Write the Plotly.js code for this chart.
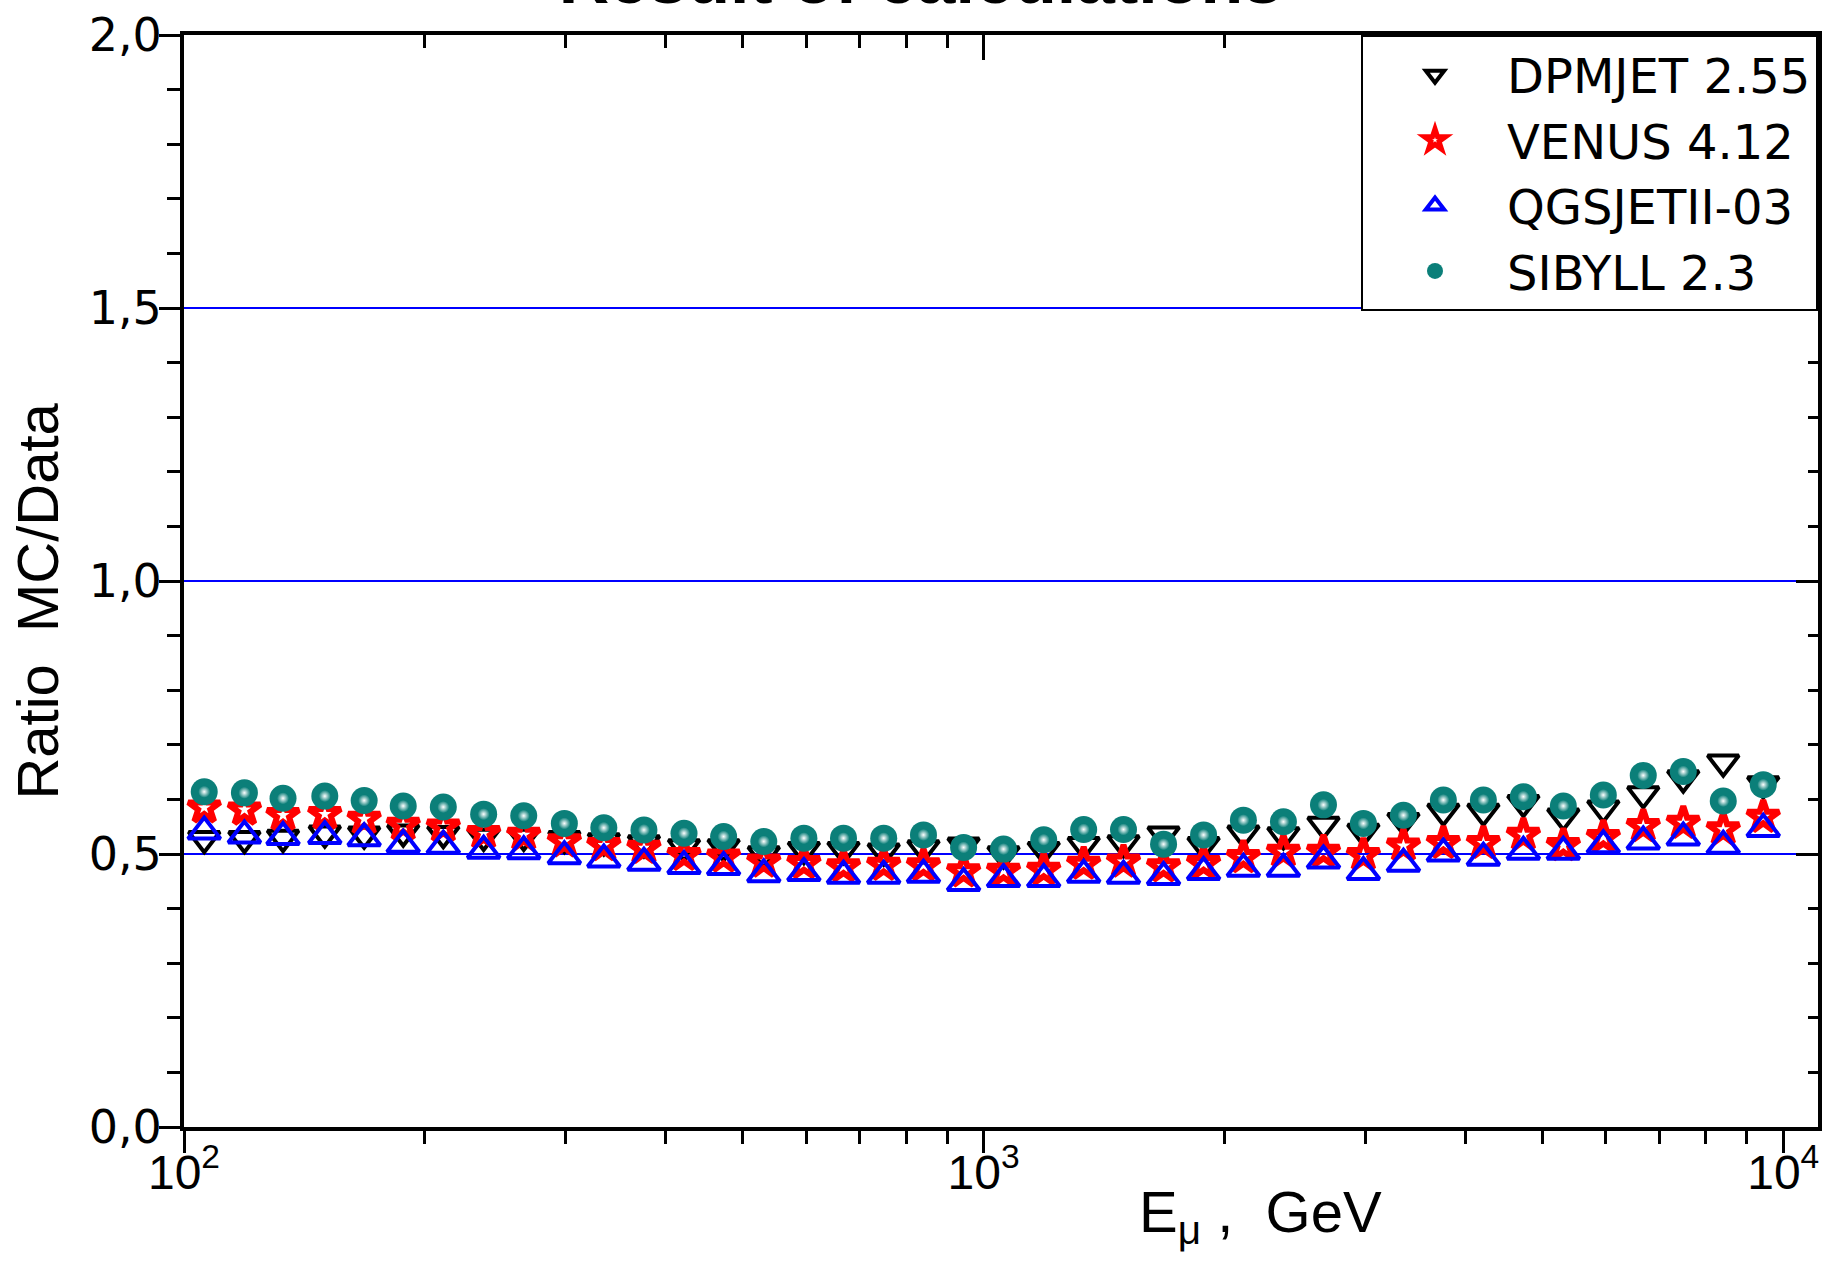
<!DOCTYPE html>
<html>
<head>
<meta charset="utf-8">
<script src="https://cdn.plot.ly/plotly-3.0.1.min.js"></script>
<style>html,body{margin:0;padding:0;background:#fff;}#chart{width:1841px;height:1263px;}</style>
</head>
<body>
<div id="chart"></div>
<script>
// Muon energy (GeV), bin centres
const energy = [106, 119, 133, 150, 168, 188, 211, 237, 266, 299, 335, 376, 422, 473, 531, 596, 668, 750, 841, 944,
                1059, 1189, 1334, 1496, 1679, 1884, 2113, 2371, 2661, 2985, 3350, 3758, 4217, 4732, 5309, 5957, 6683, 7499, 8414, 9441];

const dpmjet = [0.528, 0.528, 0.530, 0.538, 0.536, 0.540, 0.537, 0.532, 0.532, 0.528, 0.524, 0.520, 0.513, 0.513, 0.500, 0.508, 0.508, 0.505, 0.511, 0.516,
                0.500, 0.508, 0.517, 0.520, 0.536, 0.517, 0.538, 0.535, 0.554, 0.541, 0.561, 0.578, 0.578, 0.594, 0.569, 0.584, 0.610, 0.639, 0.668, 0.628];

const venus = [0.585, 0.581, 0.571, 0.573, 0.564, 0.553, 0.550, 0.538, 0.535, 0.523, 0.516, 0.511, 0.498, 0.495, 0.486, 0.483, 0.477, 0.480, 0.479, 0.468,
               0.469, 0.471, 0.482, 0.486, 0.477, 0.483, 0.494, 0.504, 0.504, 0.498, 0.515, 0.520, 0.520, 0.535, 0.516, 0.531, 0.551, 0.557, 0.545, 0.568];

const qgsjet = [0.541, 0.534, 0.531, 0.533, 0.529, 0.517, 0.515, 0.506, 0.505, 0.496, 0.490, 0.484, 0.478, 0.476, 0.463, 0.465, 0.460, 0.460, 0.462, 0.447,
                0.454, 0.454, 0.462, 0.460, 0.458, 0.467, 0.473, 0.473, 0.488, 0.467, 0.482, 0.501, 0.493, 0.504, 0.504, 0.516, 0.523, 0.530, 0.515, 0.546];

const sibyll = [0.614, 0.612, 0.602, 0.606, 0.598, 0.588, 0.586, 0.573, 0.570, 0.556, 0.548, 0.544, 0.538, 0.532, 0.523, 0.529, 0.529, 0.529, 0.535, 0.512,
                0.509, 0.526, 0.545, 0.545, 0.518, 0.535, 0.562, 0.559, 0.590, 0.556, 0.571, 0.599, 0.599, 0.605, 0.588, 0.608, 0.644, 0.651, 0.597, 0.627];

const seriesNames = ['DPMJET 2.55', 'VENUS 4.12', 'QGSJETII-03', 'SIBYLL 2.3'];

const xMajorVals = [100, 1000, 10000];
const xMajorText = ['10<sup>2</sup>', '10<sup>3</sup>', '10<sup>4</sup>'];
const xMinorVals = [200, 300, 400, 500, 600, 700, 800, 900, 2000, 3000, 4000, 5000, 6000, 7000, 8000, 9000];
const yMajorVals = [0, 0.5, 1.0, 1.5, 2.0];
const yMajorText = ['0,0', '0,5', '1,0', '1,5', '2,0'];
const yMinorVals = [0.1, 0.2, 0.3, 0.4, 0.6, 0.7, 0.8, 0.9, 1.1, 1.2, 1.3, 1.4, 1.6, 1.7, 1.8, 1.9];

const FONT = '"Liberation Sans", Arial, Helvetica, sans-serif';
const WIDE = '"DejaVu Sans", "Liberation Sans", Arial, sans-serif';
const TEAL = '#0b7f79';

const traces = [
  {x: energy, y: dpmjet, name: seriesNames[0], type: 'scatter', mode: 'markers',
   marker: {symbol: 'triangle-down-open', size: 27, color: 'black', line: {width: 4, color: 'black'}}},
  {x: energy, y: venus, name: seriesNames[1], type: 'scatter', mode: 'markers',
   marker: {symbol: 'star-open', size: 24, color: '#ff0000', line: {width: 6, color: '#ff0000'}}},
  {x: energy, y: qgsjet, name: seriesNames[2], type: 'scatter', mode: 'markers',
   marker: {symbol: 'triangle-up-open', size: 28, color: '#0000ff', line: {width: 4, color: '#0000ff'}}},
  {x: energy, y: sibyll, name: seriesNames[3], type: 'scatter', mode: 'markers',
   marker: {symbol: 'circle', size: 27, color: TEAL, line: {width: 0}}},
  {x: energy, y: sibyll, name: 'highlight', type: 'scatter', mode: 'markers', showlegend: false, hoverinfo: 'skip',
   marker: {symbol: 'circle', size: 12, color: TEAL, gradient: {type: 'radial', color: '#ffffff'}, line: {width: 0}}},
  {x: [], y: [], xaxis: 'x2', yaxis: 'y2', showlegend: false, hoverinfo: 'skip', type: 'scatter', mode: 'markers'}
];

const xRange = [2, 4.0435];

const layout = {
  width: 1841, height: 1263,
  margin: {l: 184, r: 23, t: 35, b: 136},
  paper_bgcolor: '#ffffff', plot_bgcolor: '#ffffff',
  showlegend: true,
  title: {text: 'Result of calculations', font: {family: FONT, size: 70, color: 'black', weight: 'bold'},
          xref: 'container', yref: 'container', x: 0.5, xanchor: 'center', y: 0.998, yanchor: 'bottom'},
  xaxis: {
    type: 'log', range: xRange, showline: true, linecolor: 'black', linewidth: 4,
    ticks: 'outside', ticklen: 22, tickwidth: 3, tickcolor: 'black',
    tickmode: 'array', tickvals: xMajorVals, ticktext: xMajorText,
    tickfont: {family: FONT, size: 48, color: 'black'}, ticklabelstandoff: -22,
    minor: {tickmode: 'array', tickvals: xMinorVals, ticks: 'outside', ticklen: 13, tickwidth: 3, tickcolor: 'black', showgrid: false},
    showgrid: false, zeroline: false
  },
  xaxis2: {
    type: 'log', range: xRange, overlaying: 'x', side: 'top', anchor: 'y',
    showline: true, linecolor: 'black', linewidth: 4,
    ticks: 'inside', ticklen: 25, tickwidth: 3, tickcolor: 'black',
    tickmode: 'array', tickvals: xMajorVals, showticklabels: false,
    minor: {tickmode: 'array', tickvals: xMinorVals, ticks: 'inside', ticklen: 13, tickwidth: 3, tickcolor: 'black', showgrid: false},
    showgrid: false, zeroline: false
  },
  yaxis: {
    range: [0, 2], showline: true, linecolor: 'black', linewidth: 4,
    ticks: 'outside', ticklen: 21, tickwidth: 3, tickcolor: 'black',
    tickmode: 'array', tickvals: yMajorVals, ticktext: yMajorText,
    tickfont: {family: WIDE, size: 46, color: 'black'}, ticklabelstandoff: -12,
    minor: {tickmode: 'array', tickvals: yMinorVals, ticks: 'outside', ticklen: 13, tickwidth: 3, tickcolor: 'black', showgrid: false},
    showgrid: true, gridcolor: '#0000ff', gridwidth: 2, zeroline: false
  },
  yaxis2: {
    range: [0, 2], overlaying: 'y', side: 'right', anchor: 'x',
    showline: true, linecolor: 'black', linewidth: 4,
    ticks: 'inside', ticklen: 22, tickwidth: 3, tickcolor: 'black',
    tickmode: 'array', tickvals: yMajorVals, showticklabels: false,
    minor: {tickmode: 'array', tickvals: yMinorVals, ticks: 'inside', ticklen: 10, tickwidth: 3, tickcolor: 'black', showgrid: false},
    showgrid: false, zeroline: false
  },
  legend: {
    x: 1, xanchor: 'right', y: 1, yanchor: 'top',
    bgcolor: '#ffffff', bordercolor: 'black', borderwidth: 2,
    font: {family: WIDE, size: 48, color: 'black'},
    itemwidth: 134, tracegroupgap: 0
  },
  annotations: [
    {text: 'E<sub>\u03bc</sub> ,\u00A0 GeV', xref: 'paper', yref: 'paper', x: 0.659, y: -0.046,
     xanchor: 'center', yanchor: 'top', showarrow: false,
     font: {family: FONT, size: 58, color: 'black'}},
    {text: 'Ratio\u00A0 MC/Data', textangle: -90, xref: 'paper', yref: 'paper', x: -0.0894, y: 0.482,
     xanchor: 'center', yanchor: 'middle', showarrow: false,
     font: {family: FONT, size: 58, color: 'black'}}
  ]
};

Plotly.newPlot('chart', traces, layout, {staticPlot: true, displayModeBar: false});
</script>
</body>
</html>
